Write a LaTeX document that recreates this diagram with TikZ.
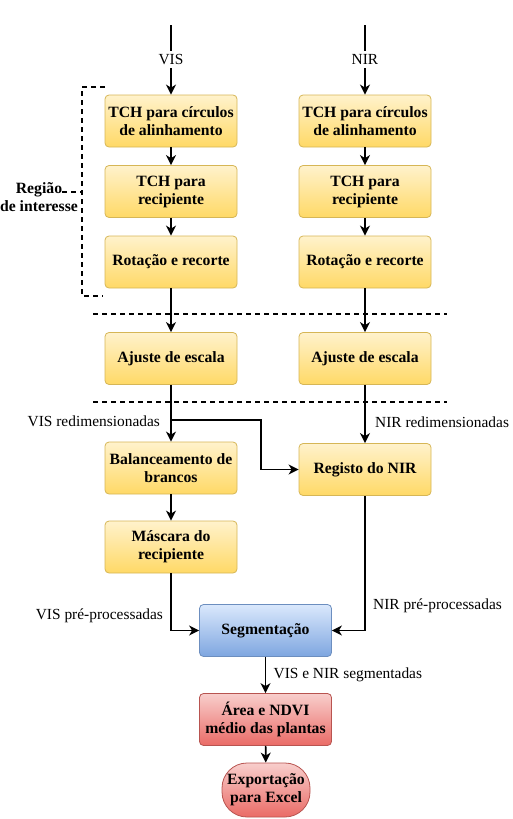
\documentclass[tikz,border=0pt]{standalone}
\usepackage{fontspec}
\setmainfont{Liberation Serif}
\usetikzlibrary{arrows.meta}
\definecolor{ylwtop}{HTML}{FFF2CC}
\definecolor{ylwbot}{HTML}{FFD966}
\definecolor{ylwline}{HTML}{D6B656}
\definecolor{blutop}{HTML}{DAE8FC}
\definecolor{blubot}{HTML}{7EA6E0}
\definecolor{bluline}{HTML}{6C8EBF}
\definecolor{redtop}{HTML}{F8CECC}
\definecolor{redbot}{HTML}{EA6B66}
\definecolor{redline}{HTML}{B85450}

\begin{document}
\begin{tikzpicture}[x=1pt,y=-1pt,
    box/.style={rectangle, rounded corners=4pt, line width=0.8pt, minimum width=132pt, minimum height=52pt, align=center, font=\fontsize{15.7}{18}\selectfont\bfseries},
    ybox/.style={box, draw=ylwline, top color=ylwtop, bottom color=ylwbot},
    bbox/.style={box, draw=bluline, top color=blutop, bottom color=blubot},
    rbox/.style={box, draw=redline, top color=redtop, bottom color=redbot},
    flow/.style={-{Stealth[length=10pt,width=10pt,inset=3pt]}, line width=1.6pt},
    lbl/.style={font=\fontsize{15.4}{18}\selectfont},
    sep/.style={dash pattern=on 5pt off 4pt, line width=1.5pt}]
    \useasboundingbox (0,0) rectangle (513,819);

    % Define nodes
    \coordinate (S1) at (171,25);
    \coordinate (S2) at (365,25);
    \node (A) at (171,121) [ybox] {TCH para círculos\\de alinhamento};
    \node (B) at (171,191.5) [ybox] {TCH para\\recipiente};
    \node (C) at (171,262) [ybox] {Rotação e recorte};
    \node (D) at (365,121) [ybox] {TCH para círculos\\de alinhamento};
    \node (E) at (365,191.5) [ybox] {TCH para\\recipiente};
    \node (F) at (365,262) [ybox] {Rotação e recorte};
    \node (G) at (171,358.5) [ybox] {Ajuste de escala};
    \node (H) at (365,358.5) [ybox] {Ajuste de escala};
    \node (I) at (171,468) [ybox] {Balanceamento de\\brancos};
    \node (J) at (365,469.5) [ybox] {Registo do NIR};
    \node (K) at (171,547) [ybox] {Máscara do\\recipiente};
    \node (L) at (265.5,630.5) [bbox] {Segmentação};
    \node (M) at (265.5,719.5) [rbox] {Área e NDVI\\médio das plantas};
    \node (N) at (266,790) [rbox, rounded corners=25pt, minimum width=88pt, minimum height=54pt, inner sep=0pt] {Exportação\\para Excel};
    \node (R) at (39,197) [align=center, inner sep=0pt, font=\fontsize{15.7}{18}\selectfont\bfseries] {Região\\de interesse};

    % Region bracket and separators
    \coordinate (R1) at (62,192);
    \coordinate (R2) at (82,192);
    \draw[sep] (105,87) -- (82,87) -- (82,296) -- (103,296);
    \draw[sep] (R1) -- (R2);
    \draw[sep] (93,314) -- (447,314);
    \draw[sep] (93,402) -- (447,402);

    % Draw arrows with text on them
    \draw[flow] (S1) -- (A) node[midway, fill=white, lbl] {VIS};
    \draw[flow] (S2) -- (D) node[midway, fill=white, lbl] {NIR};
    \draw[flow] (A) -- (B);
    \draw[flow] (B) -- (C);
    \draw[flow] (D) -- (E);
    \draw[flow] (E) -- (F);
    \draw[flow] (C) -- (G);
    \draw[flow] (F) -- (H);
    \draw[flow] (G) -- (I) node[pos=0.65, left=7pt, lbl] {VIS redimensionadas};
    \draw[flow] (H) -- (J) node[pos=0.64, right=6pt, lbl] {NIR redimensionadas};
    \coordinate (T1) at (171,420);
    \coordinate (T2) at (261,420);
    \draw[flow] (T1) -- (T2) |- (J.west);
    \draw[flow] (I) -- (K);
    \draw[flow] (K.south) |- (L.west) node[pos=0.37, left=4pt, lbl] {VIS pré-processadas};
    \draw[flow] (J.south) |- (L.east) node[pos=0.41, right=4pt, lbl] {NIR pré-processadas};
    \draw[flow] (L) -- (M) node[midway, right=4pt, lbl] {VIS e NIR segmentadas};
    \draw[flow] (M) -- (N);
\end{tikzpicture}
\end{document}
